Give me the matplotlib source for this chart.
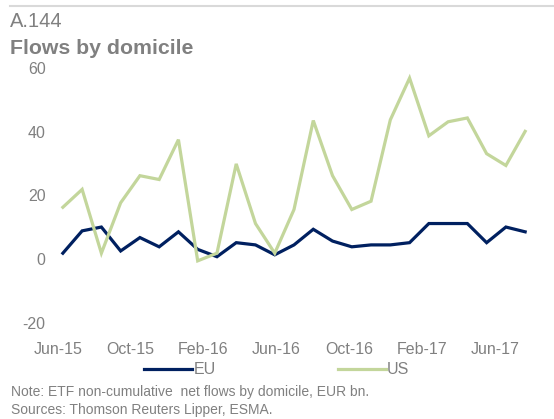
import matplotlib
matplotlib.use("Agg")
import matplotlib.pyplot as plt
import numpy as np

# monthly, Jun-15 .. Jun-17
months = ["Jun-15", "Jul-15", "Aug-15", "Sep-15", "Oct-15", "Nov-15", "Dec-15",
          "Jan-16", "Feb-16", "Mar-16", "Apr-16", "May-16", "Jun-16", "Jul-16",
          "Aug-16", "Sep-16", "Oct-16", "Nov-16", "Dec-16", "Jan-17", "Feb-17",
          "Mar-17", "Apr-17", "May-17", "Jun-17"]
eu = [1.9, 8.9, 10.1, 2.6, 6.8, 3.9, 8.6, 3.1, 0.8, 5.2, 4.5, 1.4, 4.5,
      9.4, 5.7, 3.9, 4.5, 4.5, 5.2, 11.2, 11.2, 11.2, 5.2, 10.1, 8.6]
us = [16.3, 21.9, 1.9, 17.7, 26.2, 25.0, 37.5, -0.5, 1.9, 29.9, 11.2, 1.9,
      15.6, 43.5, 26.2, 15.6, 18.2, 43.7, 56.8, 38.7, 43.1, 44.3, 33.1, 29.4, 40.1]
tick_labels = ["Jun-15", "Oct-15", "Feb-16", "Jun-16", "Oct-16", "Feb-17", "Jun-17"]

EU_COL = "#002060"
US_COL = "#c3d69b"
GREY = "#808080"

plt.rcParams["font.family"] = ["Liberation Sans", "DejaVu Sans"]
plt.rcParams["axes.unicode_minus"] = False

fig = plt.figure(figsize=(5.54, 4.19), dpi=100)
ax = fig.add_axes([0.09, 0.229, 0.876, 0.609])

x = np.arange(len(months))
ax.plot(x, eu, color=EU_COL, lw=2.3, label="EU", solid_joinstyle="miter")
ax.plot(x, us, color=US_COL, lw=2.3, label="US", solid_joinstyle="miter")

ax.set_ylim(-20, 60)
ax.set_yticks([-20, 0, 20, 40, 60])
ax.set_xlim(-0.675, 24.52)
# the category labels in the source sit on a slightly tighter spacing than the points
ax.set_xticks(np.arange(len(tick_labels)) * 3.78 - 0.26)
ax.set_xticklabels(tick_labels)

for s in ax.spines.values():
    s.set_visible(False)
ax.tick_params(axis="both", length=0, colors=GREY, labelsize=11.5)
ax.tick_params(axis="x", pad=14)
ax.tick_params(axis="y", pad=3)

fig.legend(loc="center", bbox_to_anchor=(0.5, 0.117), ncol=2, frameon=False,
           handlelength=3.0, handletextpad=0.1, columnspacing=7.6,
           fontsize=11.5, labelcolor=GREY)

fig.add_artist(plt.Line2D([0.018, 1.0], [0.985, 0.985], color="#d9d9d9", lw=1.5))
fig.text(0.018, 0.935, "A.144", fontsize=14.5, color=GREY, va="baseline")
fig.text(0.018, 0.871, "Flows by domicile", fontsize=15.3, color=GREY,
         fontweight="bold", va="baseline")
fig.text(0.02, 0.056, "Note: ETF non-cumulative  net flows by domicile, EUR bn.",
         fontsize=10, color=GREY, va="baseline")
fig.text(0.02, 0.011, "Sources: Thomson Reuters Lipper, ESMA.",
         fontsize=10, color=GREY, va="baseline")

fig.savefig("out.png", dpi=100)
